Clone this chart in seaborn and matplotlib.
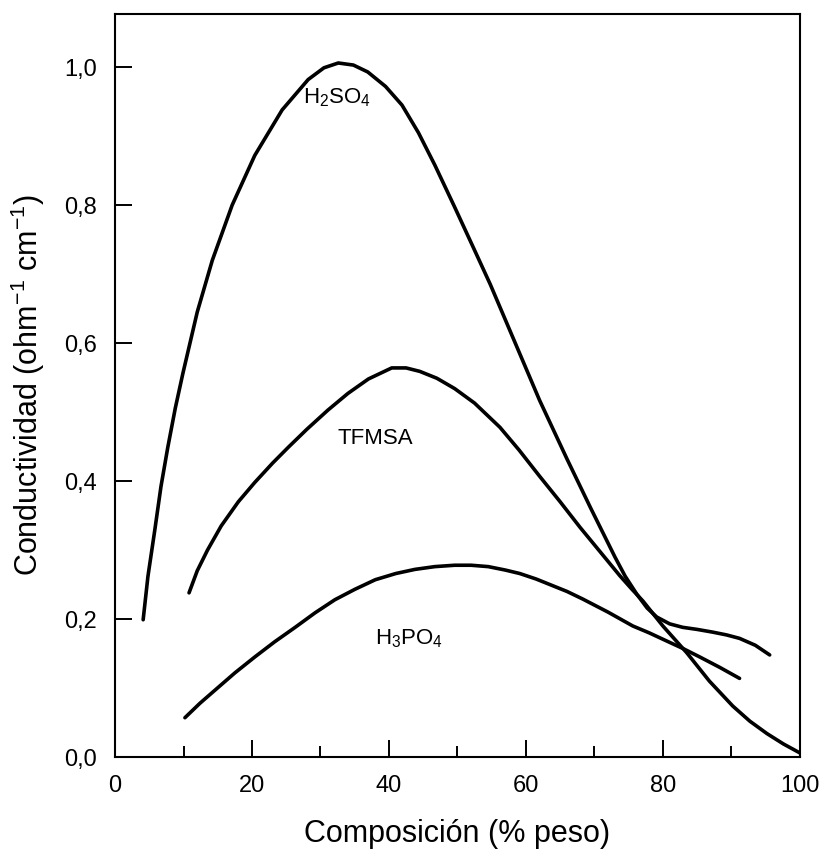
import matplotlib
matplotlib.use("Agg")
import matplotlib.pyplot as plt
import seaborn as sns
from matplotlib.ticker import FixedLocator, FuncFormatter

sns.set_style("ticks")
plt.rcParams['font.family'] = ['Liberation Sans', 'DejaVu Sans']
plt.rcParams['mathtext.fontset'] = 'custom'
plt.rcParams['mathtext.rm'] = 'Liberation Sans'
plt.rcParams['mathtext.it'] = 'Liberation Sans:italic'
plt.rcParams['mathtext.default'] = 'regular'
for k in ['text.color', 'axes.labelcolor', 'xtick.color', 'ytick.color']:
    plt.rcParams[k] = 'black'

# conductividad (ohm-1 cm-1) frente a composicion (% peso)
h2so4_x = [4.1, 4.8, 5.8, 6.7, 7.7, 8.8, 9.9, 12.0, 14.2, 17.1, 20.4, 24.4,
           28.2, 30.5, 32.6, 34.8, 36.9, 39.5, 41.9, 44.3, 46.7, 49.6, 52.3,
           54.8, 57.2, 59.6, 62.0, 66.0, 69.5, 73.0, 74.5, 76.2, 77.7, 79.1,
           81.0, 82.9, 85.0, 87.3, 89.3, 91.2, 93.5, 95.6]
h2so4_y = [0.199, 0.262, 0.329, 0.392, 0.449, 0.506, 0.556, 0.645, 0.720, 0.800,
           0.872, 0.938, 0.982, 0.999, 1.006, 1.003, 0.993, 0.972, 0.945, 0.905,
           0.858, 0.797, 0.739, 0.685, 0.629, 0.573, 0.517, 0.432, 0.360, 0.290,
           0.262, 0.236, 0.216, 0.203, 0.193, 0.188, 0.185, 0.181, 0.177, 0.172,
           0.162, 0.148]

tfmsa_x = [10.8, 12.0, 13.5, 15.5, 18.0, 20.4, 23.0, 25.3, 28.0, 31.1, 34.0,
           37.0, 40.4, 42.5, 44.5, 47.0, 49.6, 52.5, 56.2, 59.0, 62.0, 65.0,
           67.9, 70.8, 73.7, 75.5, 77.1, 80.0, 83.5, 86.8, 90.2, 92.7, 95.2,
           97.6, 100.0]
tfmsa_y = [0.238, 0.270, 0.300, 0.335, 0.370, 0.398, 0.426, 0.449, 0.475, 0.503,
           0.527, 0.548, 0.564, 0.564, 0.559, 0.549, 0.534, 0.513, 0.478, 0.445,
           0.407, 0.370, 0.333, 0.298, 0.263, 0.243, 0.226, 0.190, 0.151, 0.110,
           0.074, 0.052, 0.034, 0.019, 0.006]

h3po4_x = [10.2, 12.4, 14.6, 17.5, 20.4, 23.3, 26.3, 29.2, 32.1, 35.0, 38.0,
           41.0, 43.8, 46.7, 49.6, 52.0, 54.5, 57.0, 59.1, 61.5, 63.5, 66.0,
           68.3, 72.0, 75.6, 78.0, 80.6, 83.0, 85.4, 88.3, 91.2]
h3po4_y = [0.057, 0.078, 0.097, 0.122, 0.145, 0.167, 0.188, 0.209, 0.228, 0.243,
           0.257, 0.266, 0.272, 0.276, 0.278, 0.278, 0.276, 0.271, 0.266, 0.258,
           0.250, 0.240, 0.229, 0.210, 0.190, 0.180, 0.168, 0.157, 0.145, 0.130,
           0.114]

x_ticks = [0, 20, 40, 60, 80, 100]
x_minor = [10, 30, 50, 70, 90]
y_ticks = [0.0, 0.2, 0.4, 0.6, 0.8, 1.0]

fig = plt.figure(figsize=(8.22, 8.59), dpi=100)
ax = fig.add_axes([0.140, 0.1187, 0.833, 0.865])

for xs, ys in [(h2so4_x, h2so4_y), (tfmsa_x, tfmsa_y), (h3po4_x, h3po4_y)]:
    sns.lineplot(x=xs, y=ys, color='black', lw=2.6, sort=False,
                 errorbar=None, ax=ax)

ax.text(32.4, 0.956, r'H$_2$SO$_4$', fontsize=16, ha='center', va='center')
ax.text(38.0, 0.462, 'TFMSA', fontsize=16, ha='center', va='center')
ax.text(42.9, 0.172, r'H$_3$PO$_4$', fontsize=16, ha='center', va='center')

ax.set_xlim(0, 100)
ax.set_ylim(0, 1.077)
ax.xaxis.set_major_locator(FixedLocator(x_ticks))
ax.xaxis.set_minor_locator(FixedLocator(x_minor))
ax.yaxis.set_major_locator(FixedLocator(y_ticks))
ax.yaxis.set_major_formatter(FuncFormatter(lambda v, p: f'{v:.1f}'.replace('.', ',')))

ax.tick_params(axis='x', which='major', direction='in', length=12, width=1.4,
               labelsize=17, pad=13)
ax.tick_params(axis='x', which='minor', direction='in', length=8, width=1.4)
ax.tick_params(axis='y', which='major', direction='in', length=12, width=1.4,
               labelsize=17, pad=13)
for s in ax.spines.values():
    s.set_linewidth(1.5)
    s.set_color('black')

ax.set_xlabel('Composición (% peso)', fontsize=22, labelpad=16)
ax.set_ylabel(r'Conductividad (ohm$^{-1}$ cm$^{-1}$)', fontsize=22, labelpad=12)

fig.savefig('out.png', dpi=100)
